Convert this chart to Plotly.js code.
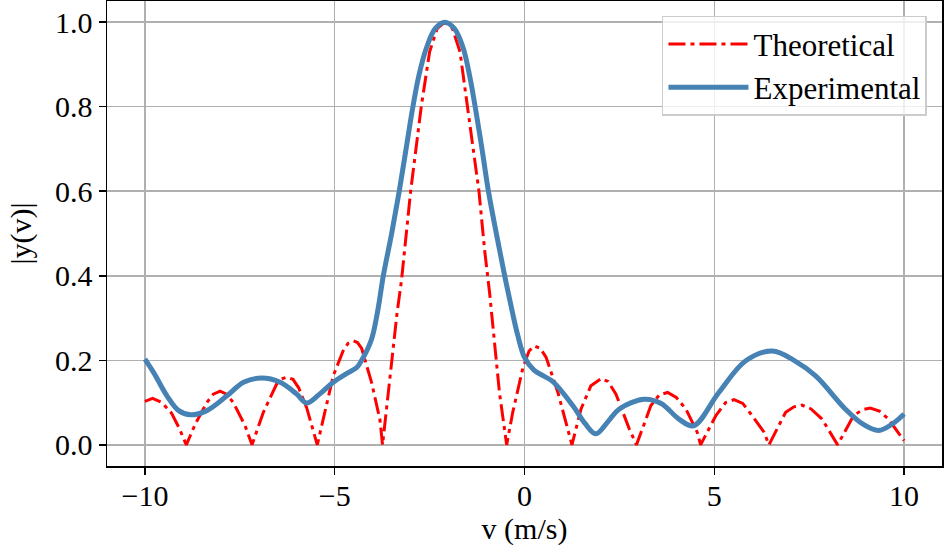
<!DOCTYPE html>
<html>
<head>
<meta charset="utf-8">
<script src="https://cdn.plot.ly/plotly-3.0.1.min.js"></script>
<style>
  html, body { margin: 0; padding: 0; background: #fff; }
  #chart { width: 944px; height: 548px; }
</style>
</head>
<body>
<div id="chart"></div>
<script>
// Theoretical curve (red, dash-dot)
const vTheo = [-10, -9.8, -9.55, -9.3, -9.1, -8.91, -8.67, -8.37, -8.2, -8.02, -7.85, -7.67, -7.36, -7.18,
  -6.88, -6.53, -6.4, -6.26, -6.1, -5.95, -5.74, -5.46, -5.04, -4.78, -4.65, -4.51, -4.4, -4.29, -4.03,
  -3.81, -3.74, -3.62, -3.49, -3.36, -3.24, -3.0, -2.86, -2.72, -2.5, -2.3, -2.1, -1.9, -1.7, -1.51,
  -1.36, -1.2, -1.05, -0.92, -0.66, -0.47, -0.31, -0.04, 0.12, 0.26, 0.42, 0.57, 0.88, 1.25, 1.49,
  1.75, 2.02, 2.2, 2.41, 2.76, 2.95, 3.33, 3.55, 3.77, 4.0, 4.25, 4.55, 4.64, 5.04, 5.3, 5.52, 5.75,
  6.0, 6.31, 6.44, 6.88, 7.1, 7.31, 7.55, 7.84, 8.25, 8.67, 8.9, 9.11, 9.35, 9.59, 10.0];
const yTheo = [0.103, 0.11, 0.1, 0.075, 0.04, 0, 0.05, 0.1, 0.12, 0.127, 0.12, 0.1, 0.045, 0,
  0.077, 0.144, 0.156, 0.16, 0.155, 0.135, 0.088, 0, 0.163, 0.222, 0.24, 0.246, 0.242, 0.228, 0.148,
  0.06, 0, 0.1, 0.2, 0.31, 0.39, 0.6, 0.7, 0.8, 0.93, 0.985, 1.0, 0.985, 0.93, 0.8,
  0.7, 0.6, 0.46, 0.36, 0.124, 0, 0.077, 0.183, 0.222, 0.234, 0.228, 0.207, 0.124, 0, 0.085,
  0.14, 0.157, 0.15, 0.12, 0.038, 0, 0.093, 0.118, 0.124, 0.112, 0.085, 0.03, 0, 0.069, 0.1, 0.107, 0.098,
  0.069, 0.03, 0, 0.077, 0.09, 0.094, 0.085, 0.061, 0, 0.069, 0.083, 0.087, 0.08, 0.061, 0.01];

// Experimental curve (blue, solid)
const vExp = [-10, -9.77, -9.42, -9.11, -8.8, -8.37, -7.84, -7.4, -6.92, -6.44, -6.0, -5.74, -5.4,
  -5.04, -4.7, -4.42, -4.29, -4.03, -3.86, -3.72, -3.5, -3.3, -3.12, -2.94, -2.78, -2.58, -2.35, -2.1,
  -1.85, -1.62, -1.45, -1.3, -1.12, -0.95, -0.72, -0.5, -0.31, -0.18, 0.0, 0.25, 0.5, 0.74, 1.27, 1.6,
  1.88, 2.2, 2.5, 3.15, 3.6, 4.07, 4.45, 5.12, 5.83, 6.53, 7.1, 7.67, 8.45, 8.9, 9.33, 9.7, 10.0];
const yExp = [0.203, 0.171, 0.116, 0.081, 0.071, 0.081, 0.116, 0.148, 0.158, 0.148, 0.12, 0.099, 0.12,
  0.148, 0.168, 0.183, 0.2, 0.25, 0.321, 0.4, 0.5, 0.6, 0.7, 0.8, 0.875, 0.94, 0.985, 1.0,
  0.985, 0.94, 0.875, 0.8, 0.7, 0.6, 0.49, 0.39, 0.31, 0.26, 0.207, 0.177, 0.163, 0.15, 0.093, 0.05,
  0.026, 0.055, 0.085, 0.108, 0.098, 0.061, 0.045, 0.124, 0.199, 0.222, 0.2, 0.163, 0.085, 0.05, 0.034, 0.05, 0.073];

const xTicks = [-10, -5, 0, 5, 10];
const yTicks = [0, 0.2, 0.4, 0.6, 0.8, 1.0];

const serif = "Liberation Serif, Times New Roman, serif";

const theo = {
  x: vTheo, y: yTheo, name: "Theoretical", type: "scatter", mode: "lines",
  line: { color: "#ff0000", width: 3, dash: "17px,5px,4px,5px" }
};
const expm = {
  x: vExp, y: yExp, name: "Experimental", type: "scatter", mode: "lines",
  line: { color: "#4682b4", width: 5, shape: "spline", smoothing: 1 }
};

const axisCommon = {
  showline: true, mirror: true, linecolor: "#000", linewidth: 1.5,
  ticks: "outside", ticklen: 7, tickwidth: 1.5, tickcolor: "#000",
  showgrid: true, gridcolor: "#b0b0b0", gridwidth: 1.5,
  zeroline: false, tickfont: { family: serif, size: 30, color: "#000" }
};

const layout = {
  width: 944, height: 548,
  margin: { l: 107, r: 2, t: 1, b: 82 },
  paper_bgcolor: "#fff", plot_bgcolor: "#fff",
  font: { family: serif, size: 30, color: "#000" },
  xaxis: Object.assign({}, axisCommon, {
    range: [-11, 11], tickvals: xTicks, ticktext: ["\u221210", "\u22125", "0", "5", "10"],
    ticklabelstandoff: -5,
    title: { text: "v (m/s)", font: { family: serif, size: 30 }, standoff: 6 }
  }),
  yaxis: Object.assign({}, axisCommon, {
    range: [-0.05, 1.05], tickvals: yTicks, ticktext: ["0.0", "0.2", "0.4", "0.6", "0.8", "1.0"],
    title: { text: "|y(v)|", font: { family: serif, size: 30 }, standoff: 14 }
  }),
  legend: {
    x: 0.982, y: 0.968, xanchor: "right", yanchor: "top",
    bgcolor: "rgba(255,255,255,0.8)", bordercolor: "#cccccc", borderwidth: 1.5,
    itemwidth: 80,
    font: { family: serif, size: 31, color: "#000" }
  },
  showlegend: true
};

Plotly.newPlot("chart", [theo, expm], layout, { displayModeBar: false, staticPlot: true });
</script>
</body>
</html>
